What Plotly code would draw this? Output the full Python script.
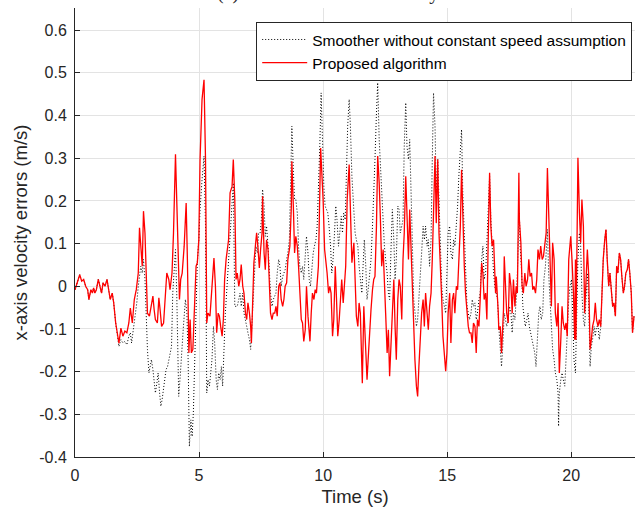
import plotly.graph_objects as go

# ---------------- data (time in s, error in m/s) ----------------
red_t1 = [0.00,0.11,0.19,0.27,0.35,0.43,0.51,0.56,0.64,0.70,0.75,0.80,0.86,0.94,1.02,1.07,1.13,1.21,1.29,1.37,
          1.42,1.50,1.56,1.64,1.69,1.77,1.85,1.93,2.01,2.09,2.17,2.23,2.31,2.39,2.47,2.55,2.60,2.65,2.71,2.76,
          2.82,2.87,2.92,3.00,3.08,3.14,3.19,3.24,3.32,3.38,3.43,3.49,3.57,3.65,3.70,3.78,3.83,3.91,3.97,4.05,
          4.10,4.16,4.21,4.26,4.32,4.40,4.48,4.53,4.59,4.64,4.69,4.75,4.80,4.88,4.93,4.99,5.04,5.12,5.20,5.26,
          5.31,5.36,5.44,5.52,5.60]
red_v1 = [-0.008,0.016,0.027,0.012,0.016,0.000,-0.008,-0.031,-0.008,-0.016,-0.004,-0.016,-0.008,0.016,0.000,-0.016,0.008,0.000,0.016,-0.016,
          -0.031,-0.016,-0.039,-0.086,-0.109,-0.133,-0.098,-0.117,-0.105,-0.109,-0.086,-0.051,-0.086,-0.031,-0.008,0.031,0.137,0.094,0.047,0.176,
          0.125,0.031,-0.063,-0.070,-0.047,-0.023,-0.055,-0.078,-0.086,-0.027,-0.055,-0.094,-0.086,-0.016,0.031,0.016,-0.008,0.031,0.125,0.309,
          0.203,0.031,-0.031,0.016,0.031,0.094,0.195,0.063,-0.156,-0.078,-0.156,-0.148,-0.063,0.047,0.055,0.109,0.297,0.438,0.484,0.297,
          -0.086,-0.063,-0.070,0.000,0.066]

red_t2 = [5.66,5.71,5.77,5.82,5.87,5.93,5.98,6.03,6.09,6.14,6.19,6.25,6.33,6.38,6.44,6.49,6.54,6.60,6.65,6.70,
          6.76,6.81,6.87,6.92,6.97,7.03,7.08,7.11,7.16,7.21,7.27,7.32,7.37,7.43,7.48,7.54,7.56,7.62,7.67,7.72,
          7.78,7.83,7.88,7.94,7.99,8.05,8.10,8.15,8.21,8.26,8.31,8.37,8.42,8.47,8.53,8.58,8.66,8.72,8.74,8.80,
          8.85,8.90,8.96,9.01,9.06,9.12,9.17,9.22,9.28,9.33,9.39,9.44,9.47,9.52,9.57,9.63,9.68,9.73,9.81,9.90,
          9.95,10.00,10.06,10.11,10.16,10.22,10.27,10.32,10.38,10.43,10.49,10.54,10.59,10.65,10.70,10.75,10.81,10.86,10.91,10.97,
          11.05,11.10,11.16]
red_v2 = [0.000,-0.109,-0.063,-0.070,-0.094,-0.117,-0.078,0.016,0.063,0.094,0.109,0.219,0.234,0.297,0.203,0.016,0.031,0.000,0.016,0.051,
          0.000,-0.016,-0.063,-0.078,-0.039,-0.063,-0.094,-0.133,-0.016,0.055,0.094,0.125,0.094,0.043,0.086,0.125,0.211,0.078,0.039,0.109,
          0.086,-0.016,-0.063,-0.078,-0.063,-0.063,-0.047,-0.070,0.000,0.008,-0.031,-0.047,-0.031,0.000,0.008,0.063,0.094,0.188,0.293,0.188,
          0.078,0.117,0.094,0.047,-0.016,-0.078,-0.086,-0.129,-0.102,0.000,-0.070,-0.117,-0.129,-0.063,-0.016,-0.031,-0.008,-0.016,0.047,0.324,
          0.273,0.203,0.086,0.063,0.031,-0.016,0.000,-0.016,-0.117,-0.078,0.047,-0.031,-0.117,-0.078,-0.016,0.016,-0.039,0.000,0.047,0.203,
          0.285,0.180,0.055]

red_t3 = [11.24,11.29,11.34,11.40,11.45,11.50,11.56,11.58,11.64,11.69,11.75,11.77,11.83,11.88,11.93,11.99,12.04,12.09,12.15,12.20,
          12.26,12.31,12.36,12.42,12.47,12.52,12.58,12.63,12.68,12.74,12.79,12.85,12.90,12.95,13.01,13.06,13.11,13.17,13.22,13.27,
          13.33,13.38,13.44,13.49,13.54,13.60,13.65,13.70,13.76,13.81,13.86,13.92,13.97,14.03,14.08,14.13,14.19,14.24,14.29,14.35,
          14.40,14.45,14.51,14.56,14.62,14.67,14.72,14.78,14.83,14.88,14.94,14.99,15.04,15.10,15.15,15.21,15.26,15.31,15.37,15.42,
          15.47,15.53,15.58,15.63,15.69,15.74,15.80,15.85,15.90,15.96,16.01,16.06,16.12,16.17,16.22,16.28,16.33,16.39,16.44,16.49,
          16.55,16.60,16.65,16.71]
red_v3 = [0.102,0.031,-0.070,-0.094,-0.039,-0.063,-0.172,-0.227,-0.047,-0.109,-0.172,-0.219,-0.156,-0.094,-0.055,-0.008,0.016,0.023,0.141,0.305,
          0.242,0.156,0.047,0.086,0.023,-0.063,-0.156,-0.102,-0.211,-0.125,-0.031,0.016,-0.094,-0.172,-0.031,0.016,0.000,-0.078,0.063,0.125,
          0.258,0.180,0.063,0.180,0.094,-0.031,-0.117,-0.172,-0.234,-0.258,-0.188,-0.094,-0.063,-0.031,-0.094,-0.016,-0.063,-0.102,-0.047,-0.016,
          0.063,0.203,0.305,0.148,0.297,0.125,0.063,-0.031,-0.117,-0.156,-0.199,-0.156,-0.063,-0.016,-0.133,-0.031,-0.016,-0.063,0.000,-0.008,
          0.047,0.141,0.273,0.141,0.047,-0.016,-0.063,-0.094,-0.109,-0.109,-0.133,-0.086,-0.094,-0.156,-0.078,-0.094,-0.031,0.055,0.031,-0.031,
          -0.016,-0.078,0.094,0.266]

red_t4 = [16.76,16.81,16.87,16.92,16.95,16.98,17.03,17.06,17.08,17.14,17.19,17.24,17.27,17.30,17.35,17.40,17.46,17.51,17.57,17.62,
          17.67,17.73,17.78,17.83,17.86,17.89,17.91,17.97,18.02,18.07,18.13,18.18,18.24,18.29,18.34,18.40,18.45,18.50,18.56,18.61,
          18.66,18.72,18.77,18.83,18.88,18.93,18.99,19.04,19.09,19.15,19.20,19.25,19.31,19.36,19.42,19.47,19.52,19.58,19.63,19.68,
          19.74,19.79,19.84,19.90,19.98,20.03,20.09,20.14,20.17,20.19,20.25,20.27,20.33,20.38,20.43,20.49,20.54,20.60,20.65,20.70,
          20.76,20.81,20.86,20.92,20.97,21.02,21.08,21.13,21.19,21.24,21.29,21.35,21.40,21.45,21.51,21.56,21.62,21.67,21.72,21.78,
          21.83,21.88,21.94,21.99,22.04,22.10,22.15,22.20,22.26,22.31,22.36,22.42,22.47,22.53]
red_v4 = [0.141,0.094,0.109,0.016,-0.016,0.023,-0.016,-0.063,-0.102,-0.094,-0.156,-0.094,-0.055,0.070,-0.016,-0.063,-0.086,0.031,0.000,-0.063,
          0.016,-0.047,0.000,-0.016,0.125,0.266,0.156,0.102,0.000,-0.016,0.031,0.000,0.016,0.063,0.023,0.031,-0.008,0.000,-0.016,0.016,
          0.086,0.063,0.094,0.063,0.070,0.094,0.125,0.277,0.172,0.078,-0.047,0.102,0.063,-0.063,-0.094,-0.039,-0.203,-0.125,-0.047,-0.086,
          -0.102,-0.086,-0.117,0.063,0.117,0.063,-0.016,-0.125,0.063,-0.125,0.180,0.301,0.172,0.102,0.203,0.141,-0.063,0.047,0.086,0.031,
          -0.148,-0.125,-0.094,-0.078,-0.039,-0.078,-0.094,-0.078,-0.094,-0.016,0.063,0.109,0.133,0.063,0.000,0.031,-0.016,-0.047,-0.039,-0.070,
          0.047,0.031,0.078,0.063,0.023,-0.016,0.000,0.031,0.039,0.063,0.031,-0.016,-0.109,-0.070]

blk_t1 = [0.00,0.11,0.19,0.27,0.35,0.43,0.51,0.56,0.64,0.70,0.75,0.80,0.86,0.94,1.02,1.07,1.13,1.21,1.29,1.37,
          1.42,1.50,1.56,1.64,1.69]
blk_v1 = [-0.008,0.016,0.027,0.012,0.016,0.000,-0.008,-0.031,-0.008,-0.016,-0.004,-0.016,-0.008,0.016,0.000,-0.016,0.008,0.000,0.016,-0.016,
          -0.031,-0.016,-0.039,-0.086,-0.109]

blk_t2 = [1.77,1.85,1.93,2.01,2.09,2.17,2.23,2.28,2.33,2.39,2.44,2.49,2.55,2.60,2.65,2.71,2.76,2.82,2.87,2.92,
          2.98,3.03,3.08,3.14,3.19,3.24,3.30,3.35,3.41,3.46,3.51,3.57,3.62,3.67,3.73,3.78,3.83,3.89,3.94,3.99,
          4.05,4.10,4.16,4.18,4.24,4.29,4.37,4.45,4.51,4.56,4.59,4.61,4.67,4.72,4.77,4.83,4.88,4.93,4.99,5.04,
          5.12,5.20,5.26,5.31,5.36,5.42]
blk_v2 = [-0.141,-0.125,-0.133,-0.129,-0.137,-0.117,-0.109,-0.133,-0.109,-0.086,-0.070,-0.039,0.000,0.031,0.047,0.031,0.063,0.016,-0.078,-0.148,
          -0.203,-0.188,-0.172,-0.195,-0.219,-0.250,-0.227,-0.203,-0.250,-0.281,-0.266,-0.234,-0.219,-0.195,-0.188,-0.172,-0.156,-0.141,-0.016,0.031,
          0.086,-0.016,-0.234,-0.258,-0.211,-0.156,-0.094,-0.031,-0.063,-0.172,-0.344,-0.375,-0.313,-0.352,-0.297,-0.148,-0.063,0.055,0.109,0.180,
          0.250,0.305,0.141,-0.250,-0.219,-0.234]

blk_t3 = [5.52,5.58,5.63,5.69,5.74,5.79,5.85,5.90,5.95,6.01,6.06,6.11,6.17,6.22,6.28,6.33,6.38,6.44,6.49,6.54,
          6.60,6.65,6.70,6.76,6.81,6.87,6.92,6.97,7.03,7.08,7.13,7.19,7.24,7.29,7.35,7.40,7.46,7.51,7.56,7.62,
          7.67,7.72,7.78,7.83,7.88,7.94,7.99,8.05,8.10,8.15,8.21,8.26,8.31,8.37,8.42,8.47,8.53,8.58,8.64,8.69,
          8.74,8.80,8.85,8.90,8.96,9.01,9.06,9.12,9.17,9.22,9.28,9.33,9.39,9.44,9.49,9.55,9.60,9.65,9.71,9.76,
          9.81,9.87,9.92,9.97,10.03,10.08,10.13,10.19,10.24,10.30,10.35,10.40,10.46,10.51,10.56,10.62,10.67,10.73,10.78,10.83,
          10.89,10.94,10.99,11.05,11.10,11.16]
blk_v3 = [-0.172,-0.094,-0.133,-0.219,-0.242,-0.203,-0.219,-0.188,-0.234,-0.125,-0.063,-0.016,0.047,0.094,0.156,0.219,0.242,-0.047,-0.047,-0.047,
          -0.031,-0.016,-0.047,-0.016,-0.063,-0.086,-0.094,-0.109,-0.125,-0.148,-0.094,-0.008,0.047,0.094,0.078,0.125,0.125,0.156,0.227,0.188,
          0.117,0.141,0.094,0.016,-0.016,-0.047,-0.031,-0.023,-0.016,0.031,0.063,0.047,0.000,0.023,0.031,0.039,0.063,0.078,0.109,0.219,
          0.375,0.273,0.203,0.203,0.172,0.094,0.047,0.031,0.047,0.016,0.063,0.117,0.078,0.016,0.000,0.047,0.078,0.094,0.109,0.141,
          0.219,0.336,0.453,0.336,0.234,0.188,0.180,0.172,0.141,0.094,0.031,0.063,0.125,0.188,0.156,0.094,0.125,0.164,0.125,0.172,
          0.156,0.297,0.375,0.438,0.375,0.258]

blk_t4 = [11.19,11.24,11.29,11.34,11.40,11.45,11.50,11.56,11.61,11.66,11.72,11.77,11.83,11.88,11.93,11.99,12.04,12.09,12.15,12.20,
          12.26,12.31,12.36,12.42,12.47,12.52,12.58,12.63,12.68,12.74,12.79,12.85,12.90,12.95,13.01,13.06,13.11,13.17,13.22,13.27,
          13.33,13.38,13.44,13.49,13.54,13.60,13.65,13.70,13.76,13.81,13.86,13.92,13.97,14.03,14.08,14.13,14.19,14.24,14.29,14.35,
          14.40,14.45,14.51,14.56,14.62,14.67,14.72,14.78,14.83,14.88,14.94,14.99,15.04,15.10,15.15,15.21,15.26,15.31,15.37,15.42,
          15.47,15.53,15.58,15.63,15.69,15.74,15.80,15.85,15.90,15.96,16.01,16.06,16.12,16.17,16.22,16.28,16.33,16.39,16.44,16.49,
          16.55,16.60,16.65,16.71]
blk_v4 = [0.219,0.180,0.125,0.109,0.094,0.047,0.016,-0.016,0.047,0.109,0.047,-0.031,0.000,0.031,0.063,0.141,0.203,0.297,0.406,0.477,
          0.344,0.281,0.250,0.156,0.094,0.063,0.031,-0.016,-0.031,0.094,0.180,0.109,0.016,0.063,0.188,0.180,0.125,0.141,0.156,0.328,
          0.430,0.328,0.297,0.344,0.188,0.094,-0.031,-0.063,-0.094,-0.078,-0.016,0.031,0.078,0.141,0.109,0.141,0.094,0.109,0.047,0.109,
          0.297,0.453,0.375,0.219,0.297,0.188,0.094,0.000,-0.031,-0.047,-0.063,0.031,0.125,0.141,0.078,0.063,0.109,0.094,0.141,0.188,
          0.258,0.336,0.367,0.219,0.125,0.016,-0.047,-0.063,-0.078,-0.063,-0.031,-0.047,-0.039,-0.078,-0.063,-0.031,-0.016,0.063,0.094,0.016,
          0.031,0.102,0.180,0.258]

blk_t5 = [16.76,16.81,16.87,16.92,16.98,17.03,17.08,17.14,17.19,17.24,17.30,17.35,17.40,17.46,17.51,17.57,17.62,17.67,17.73,17.78,
          17.83,17.89,17.91,17.94,17.99,18.05,18.10,18.15,18.21,18.26,18.31,18.37,18.42,18.47,18.53,18.58,18.63,18.69,18.74,18.79,
          18.85,18.90,18.96,19.01,19.04,19.09,19.15,19.20,19.25,19.31,19.36,19.42,19.47,19.49,19.52,19.58,19.63,19.68,19.74,19.79,
          19.84,19.90,19.95,20.01,20.06,20.11,20.17,20.22,20.27,20.33,20.38,20.43,20.49,20.54,20.60,20.65,20.70,20.76,20.81,20.86,
          20.92,20.97,21.02,21.08,21.13]
blk_v5 = [0.156,0.094,0.031,0.000,-0.016,-0.031,-0.094,-0.156,-0.188,-0.141,-0.063,-0.078,-0.094,-0.078,-0.047,-0.063,-0.109,-0.063,-0.078,-0.031,
          0.031,0.156,0.172,0.094,0.047,-0.047,-0.078,-0.094,-0.078,-0.063,-0.094,-0.109,-0.125,-0.141,-0.156,-0.188,-0.141,-0.063,-0.047,-0.078,
          -0.063,0.016,0.047,0.125,0.133,0.031,-0.039,-0.094,-0.148,-0.172,-0.203,-0.219,-0.250,-0.328,-0.250,-0.219,-0.203,-0.219,-0.234,-0.172,
          -0.094,-0.031,0.000,0.016,-0.063,-0.172,-0.203,-0.094,0.063,0.125,0.094,-0.016,-0.078,-0.094,-0.031,0.031,-0.031,-0.188,-0.141,-0.125,
          -0.094,-0.117,-0.094,-0.094,-0.125]

blk_t6 = [21.19,21.24,21.29,21.35,21.40,21.45,21.51,21.56,21.62,21.67,21.72,21.78,21.83,21.88,21.94,21.99,22.04,22.10,22.15,22.20,
          22.26,22.31,22.36,22.42,22.47,22.53]
blk_v6 = [-0.094,-0.016,0.063,0.109,0.133,0.063,0.000,0.031,-0.016,-0.047,-0.039,-0.070,0.047,0.031,0.078,0.063,0.023,-0.016,0.000,0.031,
          0.039,0.063,0.031,-0.016,-0.109,-0.070]

x_ticks = [0, 5, 10, 15, 20]
x_ticklabels = ["0", "5", "10", "15", "20"]
y_ticks = [-0.4, -0.3, -0.2, -0.1, 0, 0.1, 0.2, 0.3, 0.4, 0.5, 0.6]
y_ticklabels = ["-0.4", "-0.3", "-0.2", "-0.1", "0", "0.1", "0.2", "0.3", "0.4", "0.5", "0.6"]

series_names = ["Smoother without constant speed assumption", "Proposed algorithm"]

# ---------------- assemble ----------------
red_t = red_t1 + red_t2 + red_t3 + red_t4
red_v = red_v1 + red_v2 + red_v3 + red_v4
blk_t = blk_t1 + blk_t2 + blk_t3 + blk_t4 + blk_t5 + blk_t6
blk_v = blk_v1 + blk_v2 + blk_v3 + blk_v4 + blk_v5 + blk_v6
assert len(red_t) == len(red_v), (len(red_t), len(red_v))
assert len(blk_t) == len(blk_v), (len(blk_t), len(blk_v))

AX = "#262626"
FONT = "Liberation Sans, Arial, sans-serif"

fig = go.Figure()
fig.add_trace(go.Scatter(x=blk_t, y=blk_v, mode="lines", name=series_names[0],
                         line=dict(color="black", width=1, dash="1px,2px")))
fig.add_trace(go.Scatter(x=red_t, y=red_v, mode="lines", name=series_names[1],
                         line=dict(color="#ff0000", width=1.3)))

fig.update_layout(
    width=635, height=515,
    margin=dict(l=75, r=0, t=8, b=58),
    paper_bgcolor="white", plot_bgcolor="white",
    font=dict(family=FONT, color=AX),
    showlegend=True,
    legend=dict(x=0.995, y=0.969, xanchor="right", yanchor="top",
                bgcolor="white", bordercolor=AX, borderwidth=1,
                font=dict(size=15.5, color="black", family=FONT),
                tracegroupgap=0, itemwidth=45),
    annotations=[dict(text="(a) Errors of x-axis velocity", xref="paper", yref="paper",
                      x=0.451, y=1.0055, xanchor="center", yanchor="bottom", showarrow=False,
                      font=dict(family="Liberation Serif, Times New Roman, serif", size=20, color=AX))],
)
fig.update_xaxes(range=[0, 22.57], tickvals=x_ticks, ticktext=x_ticklabels, automargin=False,
                 ticks="inside", ticklen=5, tickcolor=AX, tickwidth=1,
                 showline=True, linecolor=AX, linewidth=1, mirror=False,
                 showgrid=True, gridcolor="#e3e3e3", gridwidth=1, zeroline=False,
                 tickfont=dict(size=16, color=AX), ticklabelstandoff=4,
                 title=dict(text="Time (s)", font=dict(size=18.5, color=AX), standoff=6))
fig.update_yaxes(range=[-0.4, 0.652], tickvals=y_ticks, ticktext=y_ticklabels, automargin=False,
                 ticks="inside", ticklen=5, tickcolor=AX, tickwidth=1,
                 showline=True, linecolor=AX, linewidth=1, mirror=False,
                 showgrid=True, gridcolor="#e3e3e3", gridwidth=1, zeroline=False,
                 tickfont=dict(size=16, color=AX), ticklabelstandoff=4,
                 title=dict(text="x-axis velocity errors (m/s)", font=dict(size=18.5, color=AX), standoff=6))

# the page's default 8px body margin would push the 635x515 figure off the window
fig.write_html("out.html", config={"displayModeBar": False},
               post_script="document.body.style.margin='0px';")
